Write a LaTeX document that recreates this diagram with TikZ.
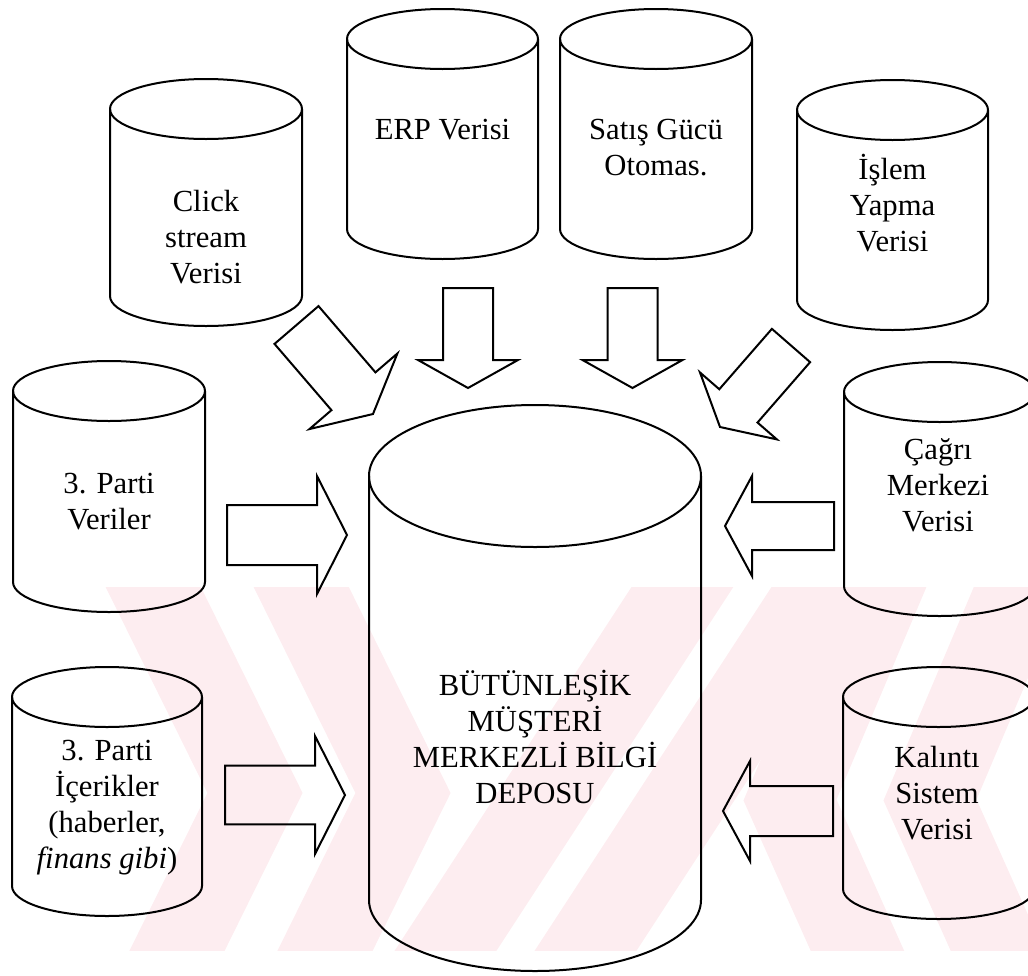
\documentclass[tikz,border=0pt]{standalone}
\usepackage{fontspec}
\setmainfont{Liberation Serif}
\usetikzlibrary{calc}
\definecolor{wmpink}{RGB}{253,237,240}

\tikzset{every picture/.style={line width=1.5pt}}
\tikzset{
  canline/.style={draw=black, line join=round},
  blockline/.style={draw=black, line join=miter},
  lbl/.style={align=center, inner sep=0pt, font=\fontsize{23}{27}\selectfont},
  wmband/.style={draw=wmpink, line width=64pt, line join=miter}
}

% can: centre x, top centre y, bottom centre y, x radius, y radius
\newcommand{\dbcan}[5]{%
  \draw[canline] (#1,#2) ellipse ({#4} and {#5});
  \draw[canline] ({#1-#4},#2) -- ({#1-#4},#3) arc (180:0:{#4} and {#5}) -- ({#1+#4},#2);
}
% block arrow: tail, tip, shaft half width, head half width, head length
\newcommand{\blockarrow}[5]{%
  \coordinate (ba-h) at ($(#2)!#5!(#1)$);
  \draw[blockline] ($(#1)!#3!90:(#2)$) -- ($(ba-h)!#3!90:(#2)$) -- ($(ba-h)!#4!90:(#2)$) -- (#2)
    -- ($(ba-h)!#4!-90:(#2)$) -- ($(ba-h)!#3!-90:(#2)$) -- ($(#1)!#3!-90:(#2)$) -- cycle;
}

\begin{document}
\begin{tikzpicture}[x=0.75pt,y=0.75pt,yscale=-1,xscale=1]
\useasboundingbox (0,0) rectangle (1028,975);
\clip (0,0) rectangle (1028,975);

%Watermark
\begin{scope}
\clip (0,587) rectangle (1028,950);
\draw[wmband] (130,540) -- (255,793) -- (130,1046);
\draw[wmband] (278,540) -- (403,793) -- (278,1046);
\draw[wmband] (420,990) -- (700,560);
\draw[wmband] (560,990) -- (840,560);
\draw[wmband] (900,540) -- (790,800) -- (900,1046);
\draw[wmband] (1040,540) -- (930,800) -- (1040,1046);
\end{scope}

%Shape: Can [click]
\dbcan{206}{109}{296}{96}{30}
%Shape: Can [erp]
\dbcan{442.5}{39}{229}{95.5}{30}
%Shape: Can [satis]
\dbcan{656}{39}{229}{96}{30}
%Shape: Can [islem]
\dbcan{892.5}{110}{300}{95.5}{30}
%Shape: Can [veriler]
\dbcan{109}{391}{582}{96}{30}
%Shape: Can [icerik]
\dbcan{107}{697}{886}{95}{30}
%Shape: Can [cagri]
\dbcan{939.5}{392}{586}{95.5}{30}
%Shape: Can [kalinti]
\dbcan{938.5}{697}{889}{95.5}{30}
%Shape: Can [depo]
\dbcan{535}{476}{900}{166}{71}

% Text Node
\draw (206,237) node (click) [lbl] {Click\\stream\\Verisi};
% Text Node
\draw (442.5,130) node (erp) [lbl] {ERP Verisi};
% Text Node
\draw (656,148) node (satis) [lbl] {Satış Gücü\\Otomas.};
% Text Node
\draw (892.5,203) node (islem) [lbl] {İşlem\\Yapma\\Verisi};
% Text Node
\draw (109,502) node (veriler) [lbl] {3. Parti\\Veriler};
% Text Node
\draw (107,808) node (icerik) [lbl] {3. Parti\\İçerikler\\(haberler,\\\textit{finans gibi})};
% Text Node
\draw (938,485) node (cagri) [lbl] {Çağrı\\Merkezi\\Verisi};
% Text Node
\draw (937,793) node (kalinti) [lbl] {Kalıntı\\Sistem\\Verisi};
% Text Node
\draw (535,737) node (depo) [lbl] {BÜTÜNLEŞİK\\MÜŞTERİ\\MERKEZLİ BİLGİ\\DEPOSU};

% arrow ends
\coordinate (clickA) at (296.5,325);
\coordinate (clickB) at (373,414);
\coordinate (erpA) at (468,288);
\coordinate (erpB) at (468,388);
\coordinate (satisA) at (632.5,288);
\coordinate (satisB) at (632.5,388);
\coordinate (islemA) at (791,345.5);
\coordinate (islemB) at (720,427);
\coordinate (verilerA) at (227,535);
\coordinate (verilerB) at (347,535);
\coordinate (icerikA) at (225,795);
\coordinate (icerikB) at (345,795);
\coordinate (cagriA) at (834,526);
\coordinate (cagriB) at (725,526);
\coordinate (kalintiA) at (833,811);
\coordinate (kalintiB) at (723,811);

%Shape: Right Arrow
\blockarrow{clickA}{clickB}{21.75pt}{43.5pt}{22.5pt}
\blockarrow{erpA}{erpB}{18.75pt}{37.5pt}{21pt}
\blockarrow{satisA}{satisB}{18.75pt}{37.5pt}{21pt}
\blockarrow{islemA}{islemB}{19pt}{38.25pt}{21pt}
\blockarrow{verilerA}{verilerB}{22.5pt}{44.25pt}{22.5pt}
\blockarrow{icerikA}{icerikB}{22pt}{44.25pt}{22.5pt}
\blockarrow{cagriA}{cagriB}{18pt}{37.5pt}{20.25pt}
\blockarrow{kalintiA}{kalintiB}{18.75pt}{37.5pt}{20.25pt}

\end{tikzpicture}
\end{document}
